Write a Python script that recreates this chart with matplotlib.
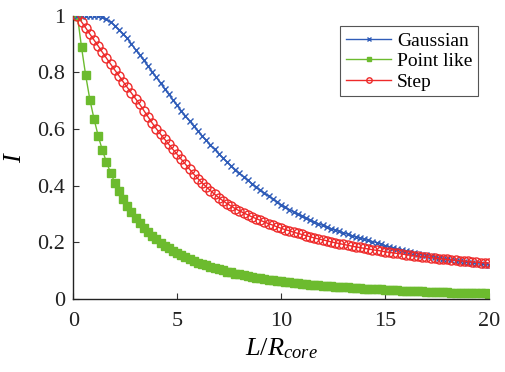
import numpy as np
import matplotlib
matplotlib.use("Agg")
from matplotlib import pyplot as plt
from matplotlib.ticker import FuncFormatter

# L/R_core sample points (0.2 .. 20, step 0.2)
L = np.round(np.arange(1, 101) * 0.2, 1)

# Gaussian source
gaussian = [
    1.000, 1.000, 1.000, 1.000, 1.000,
    0.998, 0.994, 0.987, 0.977, 0.965,
    0.951, 0.936, 0.920, 0.900, 0.880,
    0.861, 0.842, 0.822, 0.802, 0.782,
    0.762, 0.742, 0.722, 0.702, 0.683,
    0.664, 0.646, 0.628, 0.610, 0.593,
    0.576, 0.560, 0.544, 0.528, 0.513,
    0.498, 0.484, 0.470, 0.457, 0.444,
    0.431, 0.419, 0.407, 0.396, 0.385,
    0.374, 0.364, 0.354, 0.344, 0.333,
    0.324, 0.316, 0.308, 0.300, 0.292,
    0.285, 0.278, 0.272, 0.266, 0.260,
    0.254, 0.249, 0.244, 0.239, 0.234,
    0.229, 0.224, 0.220, 0.215, 0.211,
    0.207, 0.203, 0.199, 0.195, 0.189,
    0.185, 0.181, 0.177, 0.174, 0.170,
    0.167, 0.163, 0.160, 0.157, 0.154,
    0.151, 0.148, 0.146, 0.143, 0.140,
    0.138, 0.135, 0.133, 0.131, 0.129,
    0.127, 0.125, 0.123, 0.122, 0.120,
]

# point like source
point_like = [
    1.000, 0.888, 0.789, 0.704, 0.636,
    0.576, 0.526, 0.483, 0.445, 0.411,
    0.380, 0.352, 0.328, 0.306, 0.286,
    0.268, 0.252, 0.237, 0.223, 0.211,
    0.199, 0.189, 0.179, 0.170, 0.162,
    0.154, 0.147, 0.141, 0.135, 0.129,
    0.124, 0.119, 0.114, 0.110, 0.105,
    0.101, 0.097, 0.094, 0.090, 0.087,
    0.084, 0.081, 0.079, 0.076, 0.074,
    0.071, 0.069, 0.067, 0.065, 0.063,
    0.061, 0.059, 0.057, 0.056, 0.054,
    0.053, 0.051, 0.050, 0.048, 0.047,
    0.046, 0.045, 0.044, 0.043, 0.042,
    0.041, 0.040, 0.039, 0.038, 0.037,
    0.036, 0.035, 0.034, 0.034, 0.033,
    0.032, 0.031, 0.031, 0.030, 0.029,
    0.029, 0.028, 0.027, 0.027, 0.026,
    0.026, 0.025, 0.025, 0.024, 0.024,
    0.023, 0.023, 0.022, 0.022, 0.021,
    0.021, 0.020, 0.020, 0.020, 0.019,
]

# step source
step = [
    1.000, 0.978, 0.957, 0.935, 0.914,
    0.893, 0.871, 0.850, 0.829, 0.808,
    0.788, 0.767, 0.747, 0.727, 0.707,
    0.687, 0.665, 0.643, 0.621, 0.601,
    0.582, 0.564, 0.546, 0.528, 0.511,
    0.493, 0.476, 0.458, 0.441, 0.425,
    0.410, 0.396, 0.383, 0.370, 0.358,
    0.347, 0.337, 0.328, 0.319, 0.311,
    0.304, 0.297, 0.290, 0.284, 0.278,
    0.272, 0.266, 0.261, 0.255, 0.250,
    0.245, 0.241, 0.236, 0.232, 0.228,
    0.224, 0.220, 0.216, 0.212, 0.209,
    0.206, 0.202, 0.199, 0.196, 0.193,
    0.190, 0.187, 0.184, 0.182, 0.179,
    0.177, 0.174, 0.172, 0.170, 0.167,
    0.165, 0.163, 0.161, 0.159, 0.157,
    0.155, 0.153, 0.151, 0.150, 0.148,
    0.146, 0.145, 0.143, 0.141, 0.140,
    0.138, 0.137, 0.135, 0.134, 0.133,
    0.131, 0.130, 0.129, 0.128, 0.127,
]

x_ticks = [0, 5, 10, 15, 20]
y_ticks = [0, 0.2, 0.4, 0.6, 0.8, 1]

plt.rcParams['font.family'] = ['Liberation Serif', 'DejaVu Serif']
plt.rcParams['mathtext.fontset'] = 'custom'
plt.rcParams['mathtext.rm'] = 'Liberation Serif'
plt.rcParams['mathtext.it'] = 'Liberation Serif:italic'

fig = plt.figure(figsize=(5.05, 3.72), dpi=100)
ax = fig.add_axes([0.145, 0.196, 0.823, 0.762])

blue = '#2f5cb8'
green = '#6cbb2e'
red = '#ee2a2a'

ax.plot(L, gaussian, color=blue, lw=1, marker='x', ms=4.5, mew=1, label='Gaussian', zorder=3)
ax.plot(L, point_like, color=green, lw=1, marker='s', ms=5.5, mec=green, mfc=green, label='Point like', zorder=2)
ax.plot(L, step, color=red, lw=1, marker='o', ms=6.5, mew=1, mfc='none', mec=red, label='Step', zorder=4)

ax.set_xlim(0, 20)
ax.set_ylim(0, 1)
ax.set_xticks(x_ticks)
ax.set_yticks(y_ticks)
ax.yaxis.set_major_formatter(FuncFormatter(lambda v, p: f'{v:g}'))
ax.tick_params(direction='in', length=4, width=0.8, labelsize=16, color='#333333', labelcolor='#222222')
ax.tick_params(axis='x', pad=9)
ax.tick_params(axis='y', pad=6)

ax.spines['top'].set_visible(False)
ax.spines['right'].set_visible(False)
for s in ['left', 'bottom']:
    ax.spines[s].set_linewidth(1)
    ax.spines[s].set_color('#222222')

ax.set_xlabel(r'$L/R_{core}$', fontsize=19, labelpad=4)
ax.set_ylabel(r'$I$', fontsize=19, labelpad=8)

leg = ax.legend(loc='upper right', bbox_to_anchor=(0.974, 0.963), fontsize=14,
                handlelength=2.3, handletextpad=0.3, borderpad=0.3, labelspacing=0.15,
                markerscale=0.6, fancybox=False, framealpha=1, borderaxespad=0)
leg.get_frame().set_edgecolor('#555555')
leg.get_frame().set_linewidth(0.8)

fig.savefig('out.png', dpi=100)
